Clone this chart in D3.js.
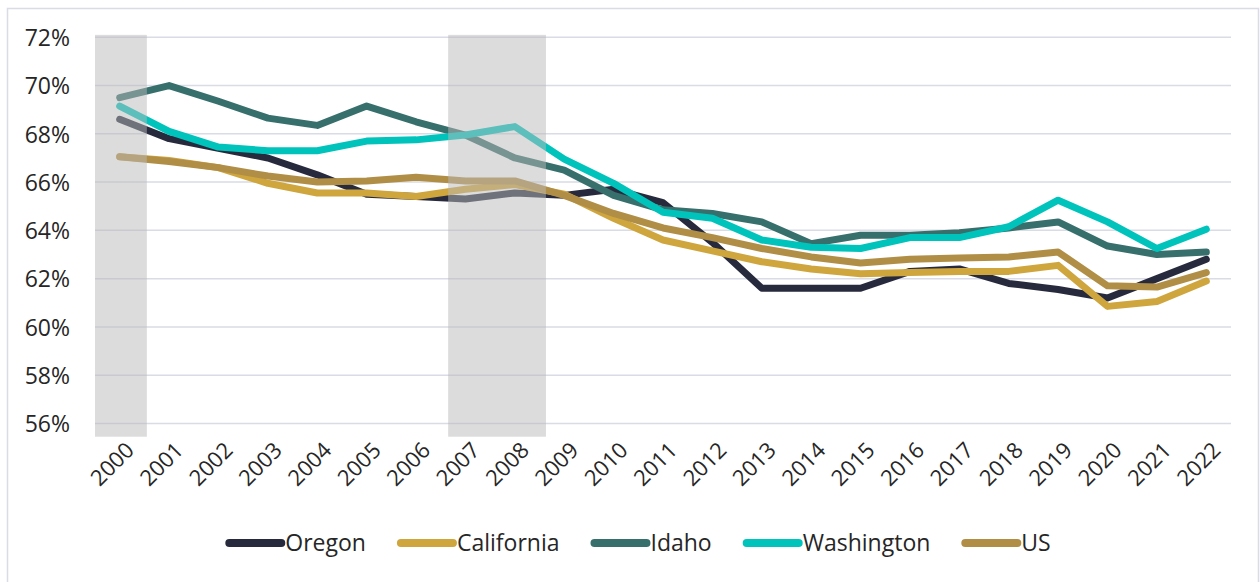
<!DOCTYPE html>
<html>
<head>
<meta charset="utf-8">
<script src="https://cdn.jsdelivr.net/npm/d3@7"></script>
<style>
  body { margin: 0; background: #fff; }
  svg { display: block; font-family: "Open Sans", sans-serif; }
</style>
</head>
<body>
<div class="chart-container"></div>
<script>
const years = [2000, 2001, 2002, 2003, 2004, 2005, 2006, 2007, 2008, 2009, 2010, 2011,
               2012, 2013, 2014, 2015, 2016, 2017, 2018, 2019, 2020, 2021, 2022];

const oregon     = [68.6, 67.8, 67.4, 67.0, 66.3, 65.5, 65.4, 65.3, 65.55, 65.45, 65.7, 65.15,
                    63.5, 61.6, 61.6, 61.6, 62.3, 62.4, 61.8, 61.55, 61.2, 62.0, 62.8];
const california = [67.05, 66.9, 66.6, 65.95, 65.55, 65.55, 65.4, 65.7, 65.9, 65.5, 64.5, 63.6,
                    63.15, 62.7, 62.4, 62.2, 62.25, 62.3, 62.3, 62.55, 60.85, 61.05, 61.9];
const idaho      = [69.5, 70.0, 69.35, 68.65, 68.35, 69.15, 68.5, 67.95, 67.0, 66.5, 65.45, 64.85,
                    64.7, 64.35, 63.45, 63.8, 63.8, 63.9, 64.1, 64.35, 63.35, 63.0, 63.1];
const washington = [69.15, 68.1, 67.45, 67.3, 67.3, 67.7, 67.75, 67.95, 68.3, 66.95, 65.95, 64.75,
                    64.5, 63.6, 63.3, 63.25, 63.7, 63.7, 64.15, 65.25, 64.35, 63.25, 64.05];
const us         = [67.05, 66.85, 66.6, 66.25, 66.0, 66.05, 66.2, 66.05, 66.05, 65.45, 64.7, 64.1,
                    63.7, 63.25, 62.9, 62.65, 62.8, 62.85, 62.9, 63.1, 61.7, 61.65, 62.25];

const seriesNames = ["Oregon", "California", "Idaho", "Washington", "US"];
const seriesColors = ["#272a3d", "#cfa53d", "#366f6b", "#00c4bc", "#b08e45"];
const seriesValues = [oregon, california, idaho, washington, us];

const yTicks = [56, 58, 60, 62, 64, 66, 68, 70, 72];

// shaded periods (in year units)
const shadeStart = [1999.5, 2006.65];
const shadeEnd   = [2000.55, 2008.63];

const chartWidth = 1260;
const chartHeight = 582;

const svg = d3.select(".chart-container")
  .append("svg")
  .attr("width", chartWidth)
  .attr("height", chartHeight);

// outer frame
svg.append("rect")
  .attr("x", 7.5)
  .attr("y", 8.5)
  .attr("width", 1251)
  .attr("height", 620)
  .attr("fill", "none")
  .attr("stroke", "#d9dbe6")
  .attr("stroke-width", 1.5);

const xScale = d3.scaleLinear()
  .domain([1999.5, 2022.5])
  .range([95, 1231]);

const yScale = d3.scaleLinear()
  .domain([55.45, 72])
  .range([436.7, 37.3]);

// grid lines
svg.append("g")
  .selectAll("line")
  .data(yTicks)
  .enter()
  .append("line")
  .attr("x1", xScale.range()[0])
  .attr("x2", xScale.range()[1])
  .attr("y1", d => yScale(d))
  .attr("y2", d => yScale(d))
  .attr("stroke", "#d9dbe6")
  .attr("stroke-width", 1.5);

// y axis labels
const yAxis = d3.axisLeft(yScale)
  .tickValues(yTicks)
  .tickSize(0)
  .tickPadding(0)
  .tickFormat(d => d + "%");

const yAxisG = svg.append("g")
  .attr("transform", "translate(70,0)")
  .call(yAxis);
yAxisG.select(".domain").remove();
yAxisG.selectAll("text")
  .attr("font-family", "Open Sans, sans-serif")
  .attr("font-size", 23)
  .attr("fill", "#262626")
  .attr("dy", "0.36em");

// x axis labels
const xAxis = d3.axisBottom(xScale)
  .tickValues(years)
  .tickSize(0)
  .tickFormat(d3.format("d"));

const xAxisG = svg.append("g")
  .attr("transform", "translate(0,445)")
  .call(xAxis);
xAxisG.select(".domain").remove();
xAxisG.selectAll("text")
  .attr("font-family", "Open Sans, sans-serif")
  .attr("font-size", 22)
  .attr("fill", "#262626")
  .attr("text-anchor", "end")
  .attr("x", 6)
  .attr("y", 0)
  .attr("dy", "0.7em")
  .attr("transform", "rotate(-45)");

// lines
const line = d3.line()
  .x((d, i) => xScale(years[i]))
  .y(d => yScale(d));

svg.append("g")
  .selectAll("path")
  .data(seriesValues)
  .enter()
  .append("path")
  .attr("d", d => line(d))
  .attr("fill", "none")
  .attr("stroke", (d, i) => seriesColors[i])
  .attr("stroke-width", 7)
  .attr("stroke-linejoin", "round")
  .attr("stroke-linecap", "round");

// shaded periods, drawn over the lines
svg.append("g")
  .selectAll("rect")
  .data(shadeStart)
  .enter()
  .append("rect")
  .attr("x", (d, i) => xScale(d))
  .attr("width", (d, i) => xScale(shadeEnd[i]) - xScale(d))
  .attr("y", yScale(72.1))
  .attr("height", yScale(55.45) - yScale(72.1))
  .attr("fill", "#bababa")
  .attr("opacity", 0.5);

// legend
const legend = svg.append("g");
let cursor = 0;
seriesNames.forEach((name, i) => {
  const g = legend.append("g");
  g.append("line")
    .attr("x1", 4).attr("x2", 56)
    .attr("y1", 0).attr("y2", 0)
    .attr("stroke", seriesColors[i])
    .attr("stroke-width", 8)
    .attr("stroke-linecap", "round");
  const t = g.append("text")
    .attr("x", 60)
    .attr("dy", "0.36em")
    .attr("font-family", "Open Sans, sans-serif")
    .attr("font-size", 23)
    .attr("fill", "#262626")
    .text(name);
  const w = 60 + t.node().getComputedTextLength();
  g.attr("transform", "translate(" + cursor + ",0)");
  cursor += w + 31;
});
const totalWidth = cursor - 31;
legend.attr("transform", "translate(" + (638 - totalWidth / 2) + ",543)");
</script>
</body>
</html>
